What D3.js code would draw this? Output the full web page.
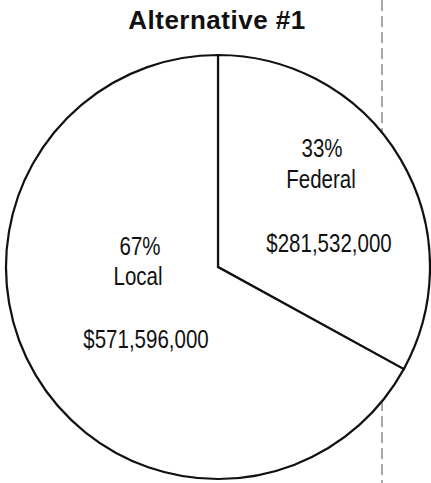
<!DOCTYPE html>
<html>
<head>
<meta charset="utf-8">
<script src="https://cdn.jsdelivr.net/npm/d3@7"></script>
<style>
  html, body { margin: 0; padding: 0; background: #fff; }
  svg { display: block; }
</style>
</head>
<body>
<svg id="chart" width="431" height="483"></svg>
<script>
// ---- data ----
const title = "Alternative #1";
const categories = ["Federal", "Local"];
const values = [281532000, 571596000];
const percentLabels = ["33%", "67%"];

const W = 431, H = 483;
const cx = 218, cy = 267, R = 212;

const svg = d3.select("#chart");
svg.append("rect").attr("width", W).attr("height", H).attr("fill", "#fff");

// dashed vertical guide line
svg.append("line")
  .attr("x1", 382).attr("x2", 382)
  .attr("y1", 0).attr("y2", H)
  .attr("stroke", "#8a8a8a")
  .attr("stroke-width", 1.5)
  .attr("stroke-dasharray", "11,5");

// title
svg.append("text")
  .attr("x", 217).attr("y", 29)
  .attr("text-anchor", "middle")
  .attr("font-family", "'Liberation Sans', Arial, sans-serif")
  .attr("font-weight", "bold")
  .attr("font-size", 26)
  .attr("letter-spacing", 0.5)
  .attr("fill", "#111")
  .text(title);

const pie = d3.pie().sort(null).value(d => d.value)
  .startAngle(0).endAngle(2 * Math.PI);
const arcs = pie(categories.map((c, i) => ({ cat: c, value: values[i], pct: percentLabels[i] })));
const arc = d3.arc().innerRadius(0).outerRadius(R);

const g = svg.append("g").attr("transform", `translate(${cx},${cy})`);

g.selectAll("path.slice")
  .data(arcs)
  .join("path")
  .attr("class", "slice")
  .attr("d", arc)
  .attr("fill", "#fff")
  .attr("stroke", "#111")
  .attr("stroke-width", 2.2)
  .attr("stroke-linejoin", "miter");

// labels (layout offsets relative to pie centre, per slice)
const fmt = d3.format("$,");
const layout = [
  [{ key: "pct", dx: 104, dy: -110 }, { key: "cat", dx: 103, dy: -79 }, { key: "val", dx: 111, dy: -15 }],
  [{ key: "pct", dx: -78, dy: -12 }, { key: "cat", dx: -80, dy: 18 }, { key: "val", dx: -72, dy: 81 }]
];

arcs.forEach((a, i) => {
  layout[i].forEach(l => {
    const txt = l.key === "pct" ? a.data.pct : l.key === "cat" ? a.data.cat : fmt(a.data.value);
    g.append("text")
      .attr("transform", `translate(${l.dx},${l.dy}) scale(0.82,1)`)
      .attr("text-anchor", "middle")
      .attr("font-family", "'Liberation Sans', Arial, sans-serif")
      .attr("font-size", 25)
      .attr("fill", "#111")
      .text(txt);
  });
});
</script>
</body>
</html>
